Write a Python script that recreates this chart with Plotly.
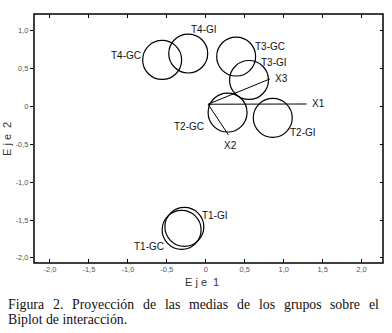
import plotly.graph_objects as go

# ---- data ----
groups = ["T4-GC", "T4-GI", "T3-GC", "T3-GI", "T2-GC", "T2-GI", "T1-GC", "T1-GI"]
group_x = [-0.56, -0.225, 0.39, 0.555, 0.28, 0.86, -0.31, -0.275]
group_y = [0.615, 0.70, 0.66, 0.35, -0.08, -0.15, -1.63, -1.59]
circle_radius = 0.25  # in units of Eje 1

variables = ["X1", "X2", "X3"]
origin = [0.03, 0.03]
var_x = [1.295, 0.29, 0.825]
var_y = [0.033, -0.375, 0.365]

x_ticks = [-2.0, -1.5, -1.0, -0.5, 0.0, 0.5, 1.0, 1.5, 2.0]
x_ticklabels = ["-2,0", "-1,5", "-1,0", "-0,5", "0", "0,5", "1,0", "1,5", "2,0"]
y_ticks = [-2.0, -1.5, -1.0, -0.5, 0.0, 0.5, 1.0]
y_ticklabels = ["-2,0", "-1,5", "-1,0", "-0,5", "0", "0,5", "1,0"]

caption_line1 = "Figura 2. Proyección de las medias de los grupos sobre el"
caption_line2 = "Biplot de interacción."

# ---- layout / style ----
W, H = 392, 333
ML, MR, MT, MB = 34, 9, 14, 70
XR = [-2.205, 2.275]
YR = [-2.068, 1.222]
plot_w = W - ML - MR
plot_h = H - MT - MB
px_x = plot_w / (XR[1] - XR[0])
px_y = plot_h / (YR[1] - YR[0])


def px_to_paper_x(px):
    return (px - ML) / plot_w


def px_to_paper_y(py):
    return 1 - (py - MT) / plot_h


label_shift = {  # pixel offsets of group labels from circle centres
    "T4-GC": (-36, 4), "T4-GI": (16, 24), "T3-GC": (34, 10), "T3-GI": (25, 18),
    "T2-GC": (-39, -14), "T2-GI": (30, -15), "T1-GC": (-33, -17), "T1-GI": (31, 11),
}
var_label = {"X1": ("left", 3, 0), "X2": ("center", 2, -11), "X3": ("left", 3, 0)}

label_font = dict(family="Liberation Sans, Arial, sans-serif", size=10, color="#111")
tick_font = dict(family="Liberation Sans, Arial, sans-serif", size=7.5, color="#555")
CAP_SIZE = 13.8
serif = dict(family="Liberation Serif, Times New Roman, serif", size=CAP_SIZE, color="#111")

fig = go.Figure()

# vectors
vx, vy = [], []
for ex, ey in zip(var_x, var_y):
    vx += [origin[0], ex, None]
    vy += [origin[1], ey, None]
fig.add_trace(go.Scatter(x=vx, y=vy, mode="lines", line=dict(color="black", width=1),
                         hoverinfo="skip", showlegend=False))
# invisible trace for right-hand tick axis
fig.add_trace(go.Scatter(x=[0], y=[0], yaxis="y2", mode="markers",
                         marker=dict(opacity=0), showlegend=False, hoverinfo="skip"))

shapes = []
ry = circle_radius * px_x / px_y
for cx, cy in zip(group_x, group_y):
    shapes.append(dict(type="circle", xref="x", yref="y",
                       x0=cx - circle_radius, x1=cx + circle_radius,
                       y0=cy - ry, y1=cy + ry,
                       line=dict(color="black", width=1.2)))
# frame
shapes.append(dict(type="rect", xref="paper", yref="paper", x0=0, x1=1, y0=0, y1=1,
                   line=dict(color="black", width=1.5), layer="above"))

annotations = []
for g, cx, cy in zip(groups, group_x, group_y):
    sx, sy = label_shift[g]
    annotations.append(dict(x=cx, y=cy, xref="x", yref="y", text=g, showarrow=False,
                            xshift=sx, yshift=sy, font=label_font))
for v, ex, ey in zip(variables, var_x, var_y):
    anc, sx, sy = var_label[v]
    annotations.append(dict(x=ex, y=ey, xref="x", yref="y", text=v, showarrow=False,
                            xanchor=anc, xshift=sx, yshift=sy, font=label_font))

# axis titles
title_font = dict(family="Liberation Sans, Arial, sans-serif", size=11, color="#333")
annotations.append(dict(x=px_to_paper_x(202), y=px_to_paper_y(282),
                        xref="paper", yref="paper", text="E j e  1", showarrow=False,
                        xanchor="center", yanchor="middle", font=title_font))
annotations.append(dict(x=px_to_paper_x(7), y=px_to_paper_y(139),
                        xref="paper", yref="paper", text="E j e  2", showarrow=False,
                        xanchor="center", yanchor="middle", textangle=-90,
                        font=title_font))

# caption: first line justified using Times metrics
times_w = {
    "F": .556, "i": .278, "g": .5, "u": .5, "r": .333, "a": .444, "2": .5, ".": .25,
    "P": .556, "o": .5, "y": .5, "e": .444, "c": .444, "ó": .5, "n": .5, "d": .5,
    "l": .278, "s": .389, "m": .778, "p": .5, "b": .5,
}
words = caption_line1.split(" ")
widths = [sum(times_w.get(ch, .5) for ch in w) * CAP_SIZE for w in words]
left, right = 6, 377
gap = (right - left - sum(widths)) / (len(words) - 1)
xpos = left
for w, wd in zip(words, widths):
    annotations.append(dict(x=px_to_paper_x(xpos), y=px_to_paper_y(304),
                            xref="paper", yref="paper", text=w, showarrow=False,
                            xanchor="left", yanchor="middle", font=serif))
    xpos += wd + gap
annotations.append(dict(x=px_to_paper_x(6), y=px_to_paper_y(319),
                        xref="paper", yref="paper", text=caption_line2, showarrow=False,
                        xanchor="left", yanchor="middle", font=serif))

fig.update_layout(
    width=W, height=H,
    margin=dict(l=ML, r=MR, t=MT, b=MB),
    paper_bgcolor="white", plot_bgcolor="white",
    showlegend=False,
    shapes=shapes, annotations=annotations,
    xaxis=dict(range=XR, tickvals=x_ticks, ticktext=x_ticklabels, ticks="inside",
               ticklen=4, tickcolor="black", showline=False, mirror="ticks",
               showgrid=False, zeroline=False, tickfont=tick_font, fixedrange=True),
    yaxis=dict(range=YR, tickvals=y_ticks, ticktext=y_ticklabels, ticks="outside",
               ticklen=3, tickcolor="black", showline=False,
               showgrid=False, zeroline=False, tickfont=tick_font, fixedrange=True),
    yaxis2=dict(range=YR, tickvals=y_ticks, overlaying="y", side="right",
                ticks="inside", ticklen=3, tickcolor="black", showticklabels=False,
                showline=False, showgrid=False, zeroline=False, fixedrange=True),
)

fig.write_html("out.html", config={"displayModeBar": False},
               post_script="document.body.style.margin='0px';")
